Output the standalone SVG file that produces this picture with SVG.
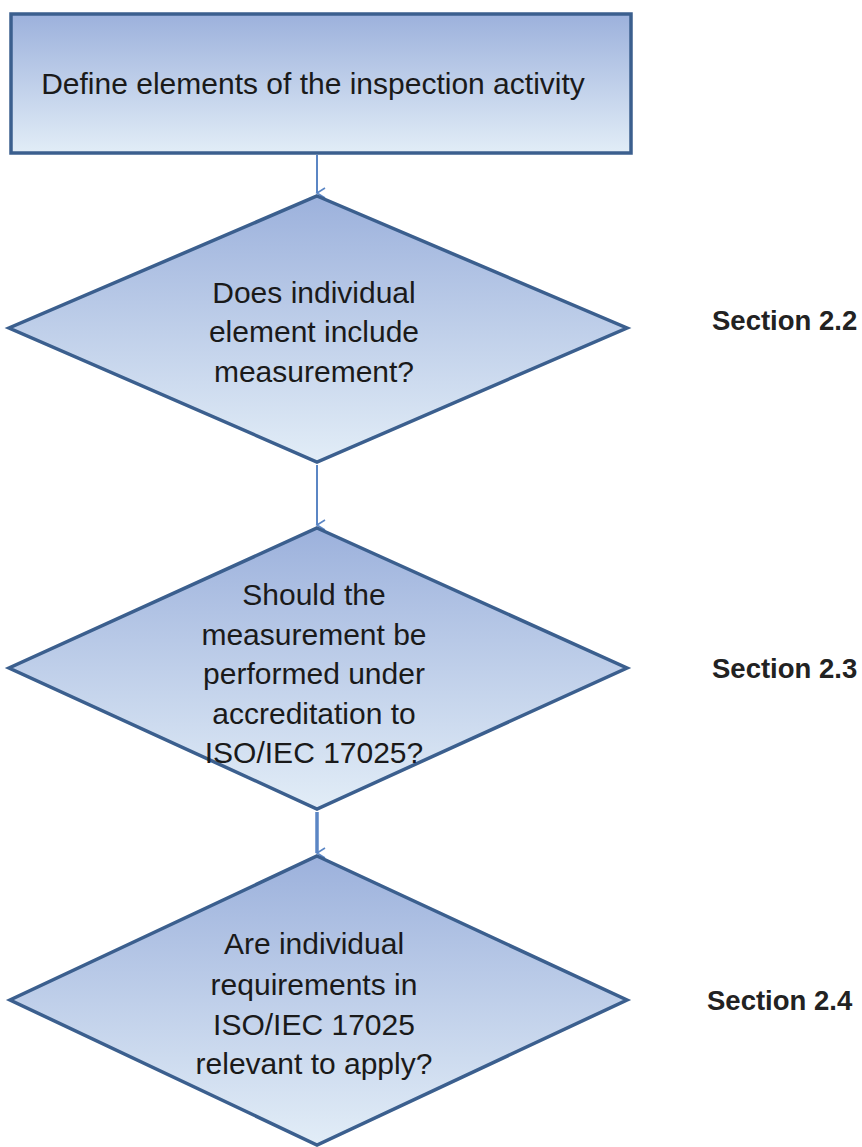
<svg xmlns="http://www.w3.org/2000/svg" width="862" height="1147" viewBox="0 0 862 1147">
<defs>
<linearGradient id="fill" x1="0" y1="0" x2="0" y2="1">
<stop offset="0" stop-color="#9cb1dc"/>
<stop offset="1" stop-color="#e2edf7"/>
</linearGradient>
<marker id="arr" markerWidth="14" markerHeight="14" refX="7" refY="12" orient="auto" markerUnits="userSpaceOnUse" viewBox="0 0 14 14">
<path d="M2,4 L7,12 L12,4" fill="none" stroke="#5b86c4" stroke-width="1.6"/>
</marker>
</defs>
<style>
.shape{fill:url(#fill);stroke:#3b5f8e;stroke-width:3.5;stroke-linejoin:miter}
.t{font-family:"Liberation Sans",Arial,sans-serif;font-size:30px;fill:#1a1a1a;text-anchor:middle}
.sec{font-family:"Liberation Sans",Arial,sans-serif;font-size:27.5px;font-weight:bold;fill:#222}
.conn{stroke:#5b86c4;fill:none}
</style>
<g id="connectors">
<line class="conn" x1="317" y1="155" x2="317" y2="193" stroke-width="2" marker-end="url(#arr)"/>
<line class="conn" x1="317" y1="465" x2="317" y2="525" stroke-width="2" marker-end="url(#arr)"/>
<line class="conn" x1="317" y1="812" x2="317" y2="853" stroke-width="3.5" marker-end="url(#arr)"/>
</g>
<g id="node-define">
<rect class="shape" x="11" y="14" width="620" height="139"/>
<text class="t" x="313" y="94">Define elements of the inspection activity</text>
</g>
<g id="node-d1">
<polygon class="shape" points="317,196 627,328 317,462 9,328"/>
<text class="t" x="314" y="303">Does individual</text>
<text class="t" x="314" y="342">element include</text>
<text class="t" x="314" y="382">measurement?</text>
</g>
<g id="node-d2">
<polygon class="shape" points="317,528 627,668 317,809 9,668"/>
<text class="t" x="314" y="605">Should the</text>
<text class="t" x="314" y="645">measurement be</text>
<text class="t" x="314" y="684">performed under</text>
<text class="t" x="314" y="724">accreditation to</text>
<text class="t" x="314" y="763">ISO/IEC 17025?</text>
</g>
<g id="node-d3">
<polygon class="shape" points="317,856 627,1000 317,1145 10,1000"/>
<text class="t" x="314" y="954">Are individual</text>
<text class="t" x="314" y="995">requirements in</text>
<text class="t" x="314" y="1035">ISO/IEC 17025</text>
<text class="t" x="314" y="1074">relevant to apply?</text>
</g>
<g id="labels">
<text class="sec" x="712" y="330">Section 2.2</text>
<text class="sec" x="712" y="678">Section 2.3</text>
<text class="sec" x="707" y="1010">Section 2.4</text>
</g>
</svg>
